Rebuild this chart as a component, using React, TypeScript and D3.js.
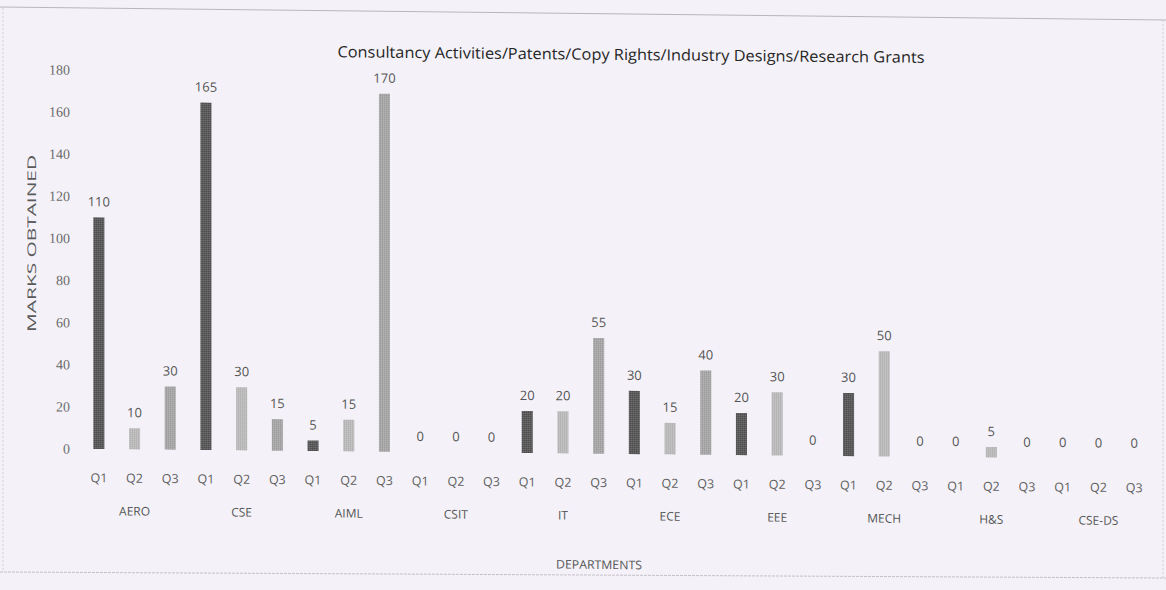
import React from "react";
import * as d3 from "d3";

const departments = ["AERO", "CSE", "AIML", "CSIT", "IT", "ECE", "EEE", "MECH", "H&S", "CSE-DS"];
const quarters = ["Q1", "Q2", "Q3"];
const q1Values = [110, 165, 5, 0, 20, 30, 20, 30, 0, 0];
const q2Values = [10, 30, 15, 0, 20, 15, 30, 50, 5, 0];
const q3Values = [30, 15, 170, 0, 55, 40, 0, 0, 0, 0];
const yTicks = [0, 20, 40, 60, 80, 100, 120, 140, 160, 180];
const title = "Consultancy Activities/Patents/Copy Rights/Industry Designs/Research Grants";

const W = 1166;
const H = 590;

export default function App() {
  const series = [q1Values, q2Values, q3Values];
  const rows = departments.flatMap((d, di) =>
    quarters.map((q, qi) => ({ key: `${d}-${q}`, dept: d, q, qi, value: series[qi][di] }))
  );

  const x = d3
    .scaleBand<string>()
    .domain(rows.map((r) => r.key))
    .range([81, 1152])
    .padding(0);
  const step = x.step();
  const bw = step * 0.31;
  const y = d3.scaleLinear().domain([0, 180]).range([449, 70]);

  const fills = ["url(#pq1)", "url(#pq2)", "url(#pq3)"];
  const skew = (Math.atan(0.0095) * 180) / Math.PI;
  const ox = 99;
  const sans = "'Open Sans', 'Noto Sans', sans-serif";

  return (
    <svg
      width={W}
      height={H}
      style={{ position: "absolute", left: 0, top: 0, display: "block" }}
    >
      <defs>
        <pattern id="pq1" width="2" height="2" patternUnits="userSpaceOnUse">
          <rect width="2" height="2" fill="#5e5e5e" />
          <rect width="1" height="1" fill="#474747" />
          <rect x="1" y="1" width="1" height="1" fill="#6e6e6e" />
        </pattern>
        <pattern id="pq2" width="2" height="2" patternUnits="userSpaceOnUse">
          <rect width="2" height="2" fill="#bdbdbd" />
          <rect width="1" height="1" fill="#a8a8a8" />
          <rect x="1" y="1" width="1" height="1" fill="#cacaca" />
        </pattern>
        <pattern id="pq3" width="2" height="2" patternUnits="userSpaceOnUse">
          <rect width="2" height="2" fill="#a9a9a9" />
          <rect width="1" height="1" fill="#939393" />
          <rect x="1" y="1" width="1" height="1" fill="#b8b8b8" />
        </pattern>
      </defs>
      <rect x={0} y={0} width={W} height={H} fill="#f4f2f8" />
      <line x1={0} y1={7} x2={W} y2={20} stroke="#b8b6bc" strokeWidth={1} />
      <line x1={0} y1={572} x2={W} y2={578} stroke="#c4c2c8" strokeWidth={1} strokeDasharray="3 1" />
      <line x1={3} y1={8} x2={3} y2={572} stroke="#cfcdd3" strokeWidth={1} strokeDasharray="2 2" />
      <line x1={1163} y1={20} x2={1163} y2={578} stroke="#d2d0d6" strokeWidth={1} strokeDasharray="2 2" />

      <g transform={`translate(${ox},0) skewY(${skew}) translate(${-ox},0)`}>
        <text
          x={631}
          y={55}
          textAnchor="middle"
          fontFamily={sans}
          fontSize={15.5}
          fill="#262626"
          textLength={587}
          lengthAdjust="spacingAndGlyphs"
        >
          {title}
        </text>

        {yTicks.map((t) => (
          <text
            key={t}
            x={70}
            y={y(t)}
            dy="0.35em"
            textAnchor="end"
            fontFamily="'Liberation Serif', serif"
            fontSize={14}
            fill="#6a6a6a"
          >
            {t}
          </text>
        ))}

        <text
          transform={`translate(36,244) rotate(-90)`}
          textAnchor="middle"
          fontFamily={sans}
          fontSize={12}
          fill="#5a5a5a"
          textLength={177}
          lengthAdjust="spacingAndGlyphs"
        >
          MARKS OBTAINED
        </text>

        {rows.map((r) => {
          const cx = (x(r.key) as number) + step / 2;
          return (
            <g key={r.key}>
              {r.value > 0 && (
                <rect
                  x={cx - bw / 2}
                  y={y(r.value)}
                  width={bw}
                  height={y(0) - y(r.value)}
                  fill={fills[r.qi]}
                />
              )}
              <text
                x={cx}
                y={y(r.value) - 11}
                textAnchor="middle"
                fontFamily={sans}
                fontSize={13}
                fill="#555"
              >
                {r.value}
              </text>
              <text
                x={cx}
                y={478}
                dy="0.35em"
                textAnchor="middle"
                fontFamily={sans}
                fontSize={12.5}
                fill="#606060"
              >
                {r.q}
              </text>
            </g>
          );
        })}

        {departments.map((d) => {
          const cx = (x(`${d}-Q2`) as number) + step / 2;
          return (
            <text
              key={d}
              x={cx}
              y={511}
              dy="0.35em"
              textAnchor="middle"
              fontFamily={sans}
              fontSize={12}
              fill="#555"
            >
              {d}
            </text>
          );
        })}

        <text
          x={599}
          y={560}
          dy="0.35em"
          textAnchor="middle"
          fontFamily={sans}
          fontSize={12}
          fill="#555"
          textLength={86}
          lengthAdjust="spacingAndGlyphs"
        >
          DEPARTMENTS
        </text>
      </g>
    </svg>
  );
}
